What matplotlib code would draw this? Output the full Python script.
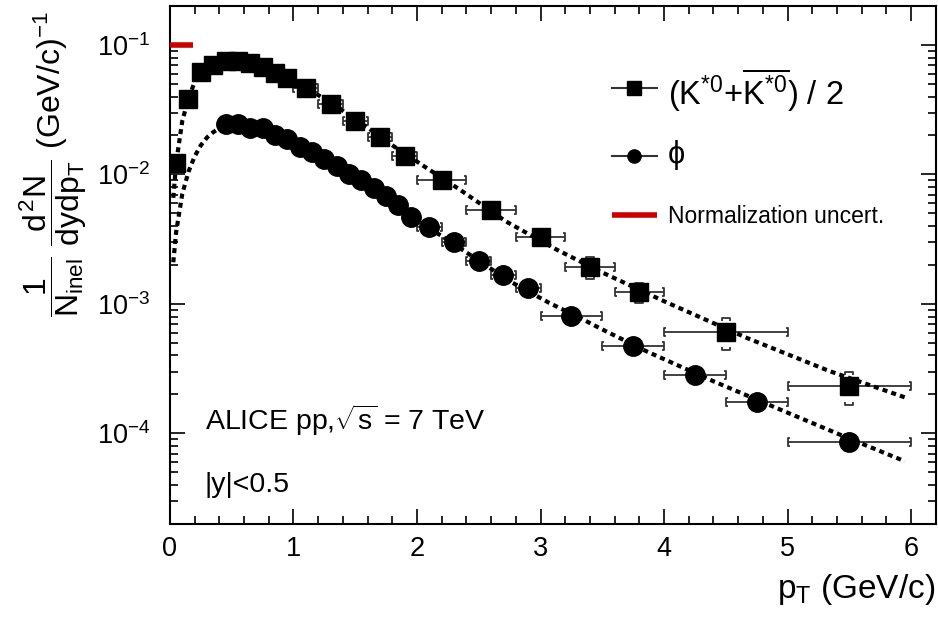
import numpy as np
import matplotlib.pyplot as plt
from matplotlib.path import Path
from matplotlib.ticker import MultipleLocator, LogLocator, NullFormatter, FuncFormatter

plt.rcParams['font.family'] = ['Liberation Sans', 'DejaVu Sans']
plt.rcParams['mathtext.fontset'] = 'custom'
plt.rcParams['mathtext.rm'] = 'Liberation Sans'
plt.rcParams['mathtext.it'] = 'Liberation Sans'
plt.rcParams['mathtext.bf'] = 'Liberation Sans:bold'

# (K*0 + anti-K*0)/2 spectrum
kst_pt = [0.05, 0.15, 0.25, 0.35, 0.45, 0.55, 0.65, 0.75, 0.85, 0.95,
          1.1, 1.3, 1.5, 1.7, 1.9, 2.2, 2.6, 3.0, 3.4, 3.8, 4.5, 5.5]
kst_dx = [0.05] * 10 + [0.1] * 5 + [0.2] * 5 + [0.5] * 2
kst_y = [0.0123, 0.0384, 0.0622, 0.0700, 0.0757, 0.0757, 0.0723, 0.0680, 0.0612, 0.0554,
         0.0469, 0.0351, 0.0261, 0.0196, 0.0138, 0.0091, 0.00534, 0.00327, 0.00193,
         0.00123, 0.000612, 0.000232]
kst_stat = [0.0017, 0.006, 0.007, 0.004, 0.003, 0.003, 0.003, 0.003, 0.002, 0.002,
            0.0015, 0.001, 0.0008, 0.0006, 0.0005, 0.0003, 0.0002, 0.0003, 0.00037,
            0.00022, 0.00017, 0.000066]

# phi spectrum
phi_pt = [0.45, 0.55, 0.65, 0.75, 0.85, 0.95, 1.05, 1.15, 1.25, 1.35, 1.45, 1.55, 1.65,
          1.75, 1.85, 1.95, 2.1, 2.3, 2.5, 2.7, 2.9, 3.25, 3.75, 4.25, 4.75, 5.5]
phi_dx = [0.05] * 16 + [0.1] * 5 + [0.25] * 4 + [0.5]
phi_y = [0.0244, 0.0245, 0.0228, 0.0230, 0.0202, 0.0187, 0.0164, 0.0150, 0.0132, 0.0117,
         0.0101, 0.0090, 0.00786, 0.00685, 0.00577, 0.00466, 0.0039, 0.00299, 0.00213,
         0.00168, 0.00133, 0.00081, 0.000477, 0.000285, 0.000175, 8.57e-5]
phi_stat = [0.0004, 0.0004, 0.0004, 0.0004, 0.0003, 0.0003, 0.0003, 0.0002, 0.0002, 0.0002,
            0.0002, 0.0002, 0.00015, 0.00013, 0.00012, 0.0001, 0.00008, 0.00006, 0.00005,
            0.00004, 0.00003, 0.00002, 0.00001, 0.000008, 0.000006, 0.0000125]

# fit curves
kst_fit_pt = [0.027, 0.05, 0.1, 0.15, 0.2, 0.25, 0.3, 0.4, 0.5, 0.6, 0.7, 0.8, 0.9, 1.0,
              1.2, 1.4, 1.6, 1.8, 2.02, 2.35, 2.72, 3.13, 3.5, 4.0, 4.67, 5.34, 5.95]
kst_fit_y = [0.0066, 0.0123, 0.026, 0.0384, 0.052, 0.062, 0.069, 0.0755, 0.077, 0.0755,
             0.071, 0.065, 0.058, 0.052, 0.041, 0.031, 0.023, 0.0168, 0.0122, 0.0076,
             0.00434, 0.00263, 0.00175, 0.00105, 0.000547, 0.000303, 0.00019]
phi_fit_pt = [0.027, 0.05, 0.1, 0.15, 0.2, 0.25, 0.3, 0.35, 0.4, 0.45, 0.5, 0.6, 0.7, 0.8,
              0.9, 1.0, 1.2, 1.4, 1.6, 1.8, 2.0, 2.21, 2.4, 2.75, 3.07, 3.32, 3.48, 3.86,
              4.4, 4.94, 5.48, 5.95]
phi_fit_y = [0.0021, 0.0036, 0.0071, 0.0105, 0.0138, 0.0168, 0.0193, 0.0212, 0.0228, 0.0238,
             0.0243, 0.0243, 0.0235, 0.0220, 0.0200, 0.0178, 0.0139, 0.0107, 0.0083, 0.0062,
             0.0044, 0.0033, 0.0025, 0.0015, 0.00102, 0.00078, 0.00065, 0.00043, 0.000253,
             0.000153, 9.3e-5, 6.1e-5]

norm_pt = [0.0, 0.19]
norm_y = [0.1, 0.1]

# bracket shaped markers, ROOT style
lbr = Path([(0.4, 1), (0, 1), (0, -1), (0.4, -1)])
rbr = Path([(-0.4, 1), (0, 1), (0, -1), (-0.4, -1)])
cap_top = Path([(-1, -0.7), (-1, 0), (1, 0), (1, -0.7)])
cap_bot = Path([(-1, 0.7), (-1, 0), (1, 0), (1, 0.7)])

fig = plt.figure(figsize=(9.38, 6.24), dpi=100)
ax = fig.add_axes([0.1812, 0.1603, 0.8164, 0.8301])
ax.set_yscale('log')
ax.set_xlim(0, 6.2)
ax.set_ylim(2e-5, 0.2)

ecol = '#333333'


def draw_series(pt, dx, y, stat, marker, ms):
    pt = np.array(pt)
    dx = np.array(dx)
    y = np.array(y)
    stat = np.array(stat)
    ax.errorbar(pt, y, xerr=dx, fmt='none', ecolor=ecol, elinewidth=1.3, capsize=0, zorder=2)
    ax.plot(pt - dx, y, ls='none', marker=lbr, ms=6, mfc='none', mec=ecol, mew=1.3, zorder=2)
    ax.plot(pt + dx, y, ls='none', marker=rbr, ms=6, mfc='none', mec=ecol, mew=1.3, zorder=2)
    ax.plot(pt, y + stat, ls='none', marker=cap_top, ms=6, mfc='none', mec=ecol, mew=1.3, zorder=2)
    ax.plot(pt, y - stat, ls='none', marker=cap_bot, ms=6, mfc='none', mec=ecol, mew=1.3, zorder=2)
    ax.plot(pt, y, ls='none', marker=marker, ms=ms, color='black', zorder=4)


draw_series(kst_pt, kst_dx, kst_y, kst_stat, 's', 12.5)
draw_series(phi_pt, phi_dx, phi_y, phi_stat, 'o', 14)

ax.plot(kst_fit_pt, kst_fit_y, color='black', lw=3, ls=(0, (1.2, 1.0)), zorder=3)
ax.plot(phi_fit_pt, phi_fit_y, color='black', lw=3, ls=(0, (1.2, 1.0)), zorder=3)
ax.plot(norm_pt, norm_y, color='#cc0000', lw=4, solid_capstyle='butt', zorder=3)

# axes style
for s in ax.spines.values():
    s.set_linewidth(1.5)
ax.xaxis.set_major_locator(MultipleLocator(1))
ax.xaxis.set_minor_locator(MultipleLocator(0.2))
ax.yaxis.set_major_locator(LogLocator(base=10))
ax.yaxis.set_minor_locator(LogLocator(base=10, subs=np.arange(2, 10)))
ax.yaxis.set_minor_formatter(NullFormatter())
ax.yaxis.set_major_formatter(FuncFormatter(lambda v, _: r'$\mathregular{10^{%d}}$' % round(np.log10(v))))
ax.tick_params(which='both', direction='in', top=True, right=True, labelsize=19.5, width=1.2)
ax.tick_params(which='major', length=11)
ax.tick_params(which='minor', length=5.5)
ax.tick_params(axis='x', pad=9)
ax.tick_params(axis='y', pad=14)

ax.text(1.0, -0.143, r'p$_{T}$ (GeV/c)', transform=ax.transAxes, ha='right', va='baseline', fontsize=24)
ax.text(-0.152, 0.99, r'$\dfrac{1}{N_{inel}}\ \dfrac{d^{2}N}{dydp_{T}}$ (GeV/c)$^{-1}$',
        transform=ax.transAxes, rotation=90, ha='center', va='top', fontsize=23)

ax.text(0.0457, 0.1815, r'ALICE pp,$\sqrt{s}$ = 7 TeV', transform=ax.transAxes, fontsize=20.5)
ax.text(0.0457, 0.0624, '|y|<0.5', transform=ax.transAxes, fontsize=20.5)

# legend
leg_x = [0.5772, 0.636]
rows = [(0.8411, 0.8089, 's', r'$(\mathrm{K^{*0}}{+}\overline{\mathrm{K^{*0}}})$ / 2', 23.5),
        (0.711, 0.6969, 'o', 'ϕ', 22)]
for yl, yt, mk, lab, fs in rows:
    ax.plot(leg_x, [yl, yl], color=ecol, lw=1.5, transform=ax.transAxes, clip_on=False)
    ax.plot([np.mean(leg_x)], [yl], mk, ms=9.5, color='black', transform=ax.transAxes, clip_on=False)
    ax.text(0.6504, yt, lab, transform=ax.transAxes, fontsize=fs, va='baseline')
ax.plot(leg_x, [0.5965, 0.5965], color='#cc0000', lw=4, solid_capstyle='butt', transform=ax.transAxes)
ax.text(0.6504, 0.5805, 'Normalization uncert.', transform=ax.transAxes, fontsize=16.5, va='baseline')

fig.savefig('out.png', dpi=100)
